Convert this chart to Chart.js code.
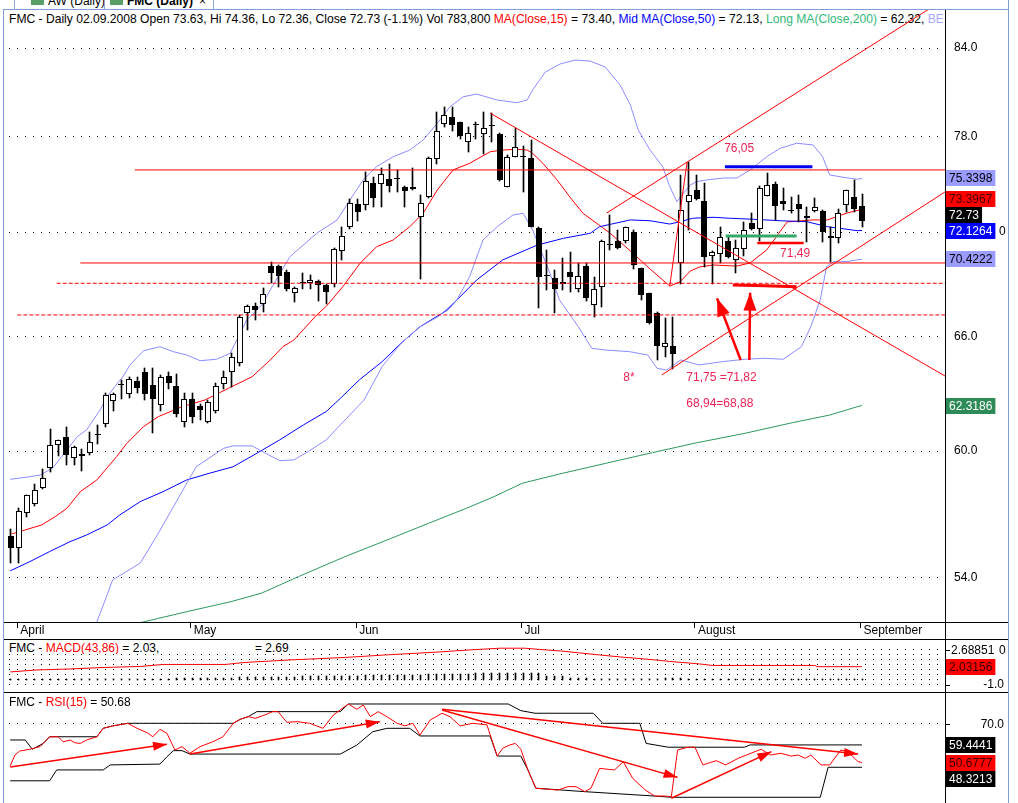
<!DOCTYPE html>
<html>
<head>
<meta charset="utf-8">
<title>FMC Daily</title>
<script src="https://cdn.jsdelivr.net/npm/chart.js@4.4.1/dist/chart.umd.min.js"></script>
<style>
  body { margin: 0; width: 1018px; height: 803px; overflow: hidden; position: relative; background: #fff;
         font: 12px "Liberation Sans", Arial, sans-serif; color: #000; }
  .a { position: absolute; }
  .h { position: absolute; height: 1px; background: #000; }
  .v { position: absolute; width: 1px; background: #000; }
  .t { position: absolute; white-space: nowrap; line-height: 14px; }
  .red { color: #f00; }
</style>
</head>
<body>
<div class="a" style="left:0;top:0;width:1018px;height:9px;overflow:hidden">
  <div class="a" style="left:14px;top:0;width:1px;height:9px;background:#8fa6d8"></div>
  <div class="a" style="left:31px;top:0;width:13px;height:5px;background:#5a9f6a"></div>
  <div class="t" style="left:48px;top:-6px">AW (Daily)</div>
  <div class="a" style="left:104px;top:0;width:1px;height:9px;background:#8fa6d8"></div>
  <div class="a" style="left:110px;top:0;width:13px;height:5px;background:#5a9f6a"></div>
  <div class="t" style="left:127px;top:-6px;font-weight:bold">FMC (Daily)</div>
  <div class="t" style="left:199px;top:-6px">&times;</div>
  <div class="a" style="left:213px;top:0;width:1px;height:9px;background:#8fa6d8"></div>
</div>
<div class="t" style="left:9px;top:11.5px;width:934px;overflow:hidden;font-size:12.1px">FMC - Daily 02.09.2008 Open 73.63, Hi 74.36, Lo 72.36, Close 72.73 (-1.1%) Vol 783,800 <span class="red">MA(Close,15)</span> = 73.40, <span style="color:#0000ff">Mid MA(Close,50)</span> = 72.13, <span style="color:#30b878">Long MA(Close,200)</span> = 62.32, <span style="color:#a9a9ff">BE</span></div>

<canvas id="cMain" class="a" width="1018" height="630" style="left:0;top:9px"></canvas>
<canvas id="cMacd" class="a" width="1018" height="52" style="left:0;top:640px"></canvas>
<canvas id="cRsi" class="a" width="1018" height="110" style="left:0;top:693px"></canvas>

<div class="h" style="left:3px;top:9px;width:1006px;background:#7f9ddb"></div>
<div class="v" style="left:3px;top:9px;height:794px;background:#7f9ddb"></div>
<div class="v" style="left:1008px;top:0;height:803px;background:#7f9ddb"></div>
<div class="v" style="left:945px;top:10px;height:793px"></div>
<div class="h" style="left:4px;top:622px;width:1004px"></div>
<div class="h" style="left:4px;top:639px;width:1004px"></div>
<div class="h" style="left:4px;top:692px;width:1004px"></div>

<div class="t" style="left:9px;top:641px;width:281px;height:13px;background:#fff;overflow:hidden">FMC - <span class="red">MACD(43,86)</span> = 2.03,<span style="position:absolute;left:246px">= 2.69</span></div>
<div class="t" style="left:9px;top:695px;background:#fff">FMC - <span class="red">RSI(15)</span> = 50.68</div>

<script>
// trading days 31.03.2008 .. 02.09.2008, index 0..108
const monthNames = ['April', 'May', 'Jun', 'Jul', 'August', 'September'];
const monthStart = [1, 23, 44, 65, 87, 108];
const priceTicks = [54, 60, 66, 72, 78, 84];

const opens = [55.91,55.32,56.96,57.39,58.19,59.14,60.29,60.69,59.64,59.74,
  59.89,60.80,61.37,62.56,63.38,62.91,63.62,64.09,63.40,62.34,
  63.88,63.35,61.49,62.65,62.30,61.46,62.06,63.46,64.11,64.59,
  67.31,67.72,67.82,70.02,70.02,69.67,68.45,69.02,69.06,69.14,
  68.92,68.96,70.93,72.36,73.73,73.66,75.07,74.99,75.28,75.30,
  74.82,74.67,72.93,74.19,76.55,78.82,79.28,78.95,77.64,78.78,
  78.16,78.69,78.18,74.82,76.71,76.67,76.63,72.30,69.45,69.31,
  68.98,69.69,68.71,70.02,67.78,68.79,71.27,71.48,71.48,72.06,
  69.89,68.45,67.35,65.46,65.51,70.22,73.85,74.61,73.93,70.61,
  70.73,71.52,70.38,71.04,72.57,72.20,74.24,74.99,73.95,73.34,
  73.74,73.01,73.30,73.33,71.80,71.66,73.68,74.19,73.63];
const highs = [56.22,57.20,57.86,58.37,59.09,61.10,60.56,61.20,60.25,60.09,
  60.95,61.32,62.96,62.98,63.67,63.84,63.84,64.32,64.29,63.93,
  64.11,63.99,62.98,62.96,62.40,62.61,63.49,64.15,65.14,67.22,
  67.78,67.88,68.73,70.28,70.08,69.79,68.83,69.63,69.50,69.21,
  68.98,71.07,72.36,74.03,74.03,75.74,75.40,75.97,76.25,75.87,
  74.86,75.97,74.28,76.71,79.63,79.94,79.94,79.00,78.62,78.97,
  79.61,79.58,78.22,76.82,78.59,77.40,77.79,72.33,70.97,69.79,
  70.48,70.83,70.18,70.18,69.40,71.53,73.07,72.16,72.37,72.16,
  69.92,68.48,67.40,67.03,67.09,75.55,76.40,75.55,75.03,70.90,
  72.36,71.76,71.56,72.66,73.17,74.86,75.70,75.13,74.71,74.19,
  74.30,73.58,74.09,73.36,72.36,73.44,74.61,75.24,74.36];
const lows = [54.64,54.66,56.80,57.31,58.12,58.95,59.75,59.29,59.31,59.03,
  59.80,60.34,61.20,62.06,62.65,62.70,62.96,62.61,60.93,62.06,
  63.17,61.75,61.20,61.44,61.58,61.44,61.92,63.17,63.31,64.42,
  66.38,66.94,67.40,69.02,68.83,68.60,67.97,68.68,68.69,68.03,
  67.84,68.83,70.38,72.24,72.72,73.38,73.54,73.54,74.50,74.50,
  73.58,74.64,69.28,74.09,76.25,78.66,78.40,77.86,77.03,77.84,
  76.89,77.64,75.20,74.79,76.68,74.50,72.33,67.59,68.64,67.35,
  68.64,68.54,68.54,68.03,67.09,67.69,70.97,71.01,71.38,69.83,
  68.07,66.74,64.74,64.92,64.24,68.98,72.16,74.02,69.95,68.98,
  70.18,70.49,69.60,70.61,72.16,71.52,74.21,72.77,73.38,73.17,
  72.66,71.46,73.27,71.46,70.28,71.36,73.27,73.27,72.36];
const closes = [55.35,57.07,57.83,58.08,58.65,60.29,60.54,59.79,60.22,59.84,
  60.44,60.82,62.86,62.91,63.42,63.70,63.26,62.91,62.65,63.81,
  63.49,61.90,62.65,61.72,62.09,62.53,63.35,63.81,64.89,67.11,
  67.72,67.50,68.41,69.63,69.44,68.71,68.73,69.06,69.21,68.90,
  68.54,71.01,71.82,73.79,73.27,75.19,74.13,75.61,74.86,75.34,
  74.55,74.82,73.82,76.61,78.40,79.45,78.76,78.05,78.27,78.82,
  78.55,78.73,75.24,76.67,77.36,76.71,72.36,69.40,69.49,68.71,
  69.08,69.36,69.44,68.16,68.68,71.48,71.31,71.10,72.32,70.08,
  68.35,66.79,65.50,65.65,65.07,73.38,74.28,74.05,70.57,70.87,
  71.72,70.53,71.07,72.16,72.20,74.72,74.92,73.62,73.74,73.38,
  73.42,72.87,73.54,72.06,71.66,73.17,74.59,73.42,72.73];

// indicator lines, [day index, value]
const ma15 = [[0.1,55.99],[3.9,56.41],[5.6,56.80],[7.1,57.20],[8.8,58.00],[10.9,58.57],[13.4,59.72],[14.7,60.39],
  [16.8,61.23],[18.7,61.75],[21.7,62.26],[24.6,62.61],[27.6,63.23],[30.6,63.84],[32.9,64.74],[34.5,65.46],
  [35.9,65.83],[37.1,66.40],[38.8,67.22],[40.0,67.70],[42.1,68.82],[44.3,70.18],[46.4,71.16],[48.5,71.56],
  [50.6,72.36],[52.3,73.17],[54.1,74.61],[56.1,75.87],[58.2,76.29],[60.8,77.03],[62.4,77.14],[64.2,77.19],
  [65.5,77.14],[66.2,76.93],[67.5,76.29],[69.3,75.24],[70.9,74.19],[72.6,73.17],[76.0,71.98],[78.6,70.91],
  [81.1,69.85],[83.6,68.86],[84.9,69.10],[86.2,69.73],[87.4,69.97],[89.1,70.08],[92.1,70.02],[93.8,70.20],
  [95.9,70.97],[98.5,72.65],[101.8,72.77],[103.6,72.77],[106.1,73.19],[107.7,73.38],[108,73.40]];
const ma50 = [[-0.1,54.29],[2.4,54.71],[4.9,55.17],[7.5,55.63],[9.6,55.94],[12.2,56.41],[13.8,56.88],[16.4,57.52],
  [19.3,58.00],[22.3,58.57],[25.2,58.90],[28.2,59.22],[31.2,59.89],[34.1,60.56],[37.1,61.32],[40.0,62.01],
  [41.8,62.70],[44.2,63.67],[47.1,64.65],[49.5,65.65],[51.9,66.56],[55.4,67.50],[56.6,68.07],[59.1,69.21],
  [62.4,70.38],[66.8,71.26],[70.1,71.66],[73.5,71.96],[74.7,72.36],[78.6,72.77],[81.1,72.72],[83.6,72.52],
  [84.9,72.66],[86.5,72.87],[89.1,72.93],[91.2,72.87],[94.2,72.81],[97.6,72.72],[101.0,72.66],[103.6,72.36],
  [105.2,72.26],[107.4,72.12],[108,72.13]];
const ma200 = [[16.4,51.99],[22.3,52.47],[27.9,52.91],[31.8,53.29],[36.5,54.03],[42.4,54.94],[48.3,55.79],
  [53.0,56.49],[57.8,57.20],[61.3,57.76],[64.9,58.41],[69.6,58.86],[75.5,59.39],[81.4,59.92],[86.7,60.39],
  [93.2,60.90],[99.2,61.44],[103.9,61.83],[107.7,62.30],[108,62.32]];
const bbUpper = [[-0.1,58.60],[2.4,58.73],[3.7,58.81],[5.3,59.16],[7.1,60.06],[8.4,60.72],[9.6,61.07],[11.3,62.09],
  [12.2,62.79],[13.5,63.49],[14.2,63.84],[15.1,64.47],[16.8,65.24],[18.9,65.46],[20.6,65.19],[22.3,65.01],
  [24.0,64.70],[26.1,64.78],[27.8,65.10],[29.1,66.20],[29.9,66.94],[31.0,67.40],[32.0,67.88],[32.9,68.64],
  [35.4,70.57],[38.8,71.96],[41.4,72.77],[43.0,73.99],[44.7,75.24],[46.4,76.08],[48.5,76.71],[50.6,77.14],
  [52.3,77.79],[54.1,78.88],[55.7,79.98],[57.4,80.65],[59.1,80.83],[61.7,80.43],[64.2,80.25],[65.5,80.43],
  [66.2,81.11],[67.8,82.33],[69.7,82.89],[71.6,83.16],[73.5,83.09],[75.4,82.68],[77.3,81.44],[78.6,80.10],
  [79.6,78.44],[81.1,77.14],[82.7,76.08],[83.6,74.82],[84.5,73.89],[86.2,74.92],[87.0,75.13],[88.3,75.24],
  [90.4,75.36],[92.1,75.36],[93.8,75.87],[95.9,76.71],[97.6,77.25],[99.7,77.58],[101.8,77.47],[103.0,76.71],
  [103.9,75.55],[105.6,75.41],[107.4,75.28],[108,75.34]];
const bbLower = [[10.9,52.02],[12.9,53.88],[16.4,54.64],[18.7,56.02],[21.1,57.60],[23.5,59.22],[27.0,60.14],
  [28.2,60.26],[30.6,60.26],[32.3,59.89],[34.1,59.52],[35.9,59.56],[37.7,59.97],[40.0,60.56],[42.4,61.58],
  [44.8,62.61],[47.1,64.38],[49.5,65.65],[51.9,66.56],[54.2,67.12],[56.6,68.07],[58.2,69.40],[59.9,71.56],
  [61.7,72.36],[63.7,73.07],[65.0,73.17],[66.2,72.16],[68.4,69.60],[69.6,68.07],[72.0,66.56],[73.7,65.37],
  [75.5,65.28],[78.5,65.19],[80.8,65.01],[82.0,64.29],[83.2,64.20],[85.0,64.74],[87.3,64.47],[90.3,64.65],
  [93.2,64.78],[95.6,64.83],[98.0,64.78],[100.3,65.46],[101.5,66.56],[102.7,68.07],[103.5,69.98],[104.4,70.28],
  [106.1,70.28],[107.3,70.38],[108,70.42]];

// drawn levels and trend lines
const levelPrices = [75.87, 70.20, 69.02, 67.22];
const levelFrom = [15.7, 8.8, 5.8, 0.8];
const levelDashed = [false, false, true, true];
const trendLines = [
  [[60.8,79.56],[118.53,63.88]],
  [[75.6,73.19],[116.5,86.78]],
  [[82.6,63.94],[118.53,74.49]],
  [[83.6,68.86],[85.8,76.38]]
];
const markBlue = [[90.6,76.08],[101.7,76.08]];
const markGreen = [[90.7,71.80],[99.7,71.80]];
const markRed = [[94.7,71.38],[100.6,71.38]];
const markRed2 = [[91.6,68.92],[95.7,68.88],[99.7,68.82]];
const mainArrows = [[[92.6,64.74],[89.6,68.16]], [[93.7,64.74],[93.8,68.48]]];
const notes = [[90.5,77.02,'76,05'],[97.6,70.57,'71,49'],[77.7,63.63,'8*'],[85.7,63.63,'71,75 =71,82'],[85.7,62.26,'68,94=68,88']];

// MACD(43,86)
const macdLine = [[-0.1,1.82],[3.3,1.90],[7.5,1.94],[11.9,2.00],[16.4,2.04],[19.3,2.12],[27.2,2.12],[29.7,2.20],
  [35.4,2.30],[42.4,2.40],[47.5,2.50],[54.4,2.62],[58.2,2.70],[62.1,2.77],[65.2,2.77],[67.1,2.72],[69.7,2.66],
  [72.2,2.58],[74.7,2.50],[77.3,2.42],[81.1,2.32],[83.6,2.24],[87.4,2.14],[89.0,2.08],[102.0,2.08],[102.4,2.03],[108,2.03]];
const macdHist = [0.02,0.02,0.02,0.02,0.02,0.02,0.02,0.02,0.02,0.02,0.02,0.02,0.02,
  0.04,0.04,0.04,0.04,0.04,0.04,0.04,0.04,
  0.08,0.08,0.08,0.08,0.08,0.08,0.08,0.08,
  0.12,0.12,0.12,0.12,0.12,0.12,0.12,0.12,
  0.16,0.16,0.16,0.16,0.16,0.16,0.16,0.16,
  0.2,0.2,0.2,0.2,0.2,0.2,0.2,0.2,
  0.24,0.24,0.24,0.24,0.24,0.24,
  0.28,0.28,0.28,0.28,0.28,0.28,0.28,0.28,0.28,
  0.16,0.16,0.16,0.08,0.08,0.08,
  0.04,0.04,0.04,0.04,0.04,0.04,0.04,0.04,0.04,
  0.08,0.08,0.08,
  0.04,0.04,0.04,0.04,0.04,0.04,0.04,0.04,0.04,0.04,0.04,0.04,0.04,0.04,0.04,0.04,0.04,0.04,0.04,0.04,0.04,0.04,0.04];
const macdGrid = [1.3, 1.5, 1.7, 1.9, 2.1, 2.3, 2.5, 2.7];

// RSI(15)
const rsiLine = [[-0.1,49.0],[0.5,54.4],[1.1,56.4],[2.4,57.3],[3.7,58.6],[4.1,60.2],[4.9,63.5],[6.0,63.5],[6.6,61.0],
  [7.5,61.9],[8.1,60.5],[8.8,60.2],[9.6,61.9],[10.9,63.5],[11.7,67.7],[12.9,68.9],[14.8,70.2],[16.0,67.7],
  [17.3,65.5],[18.0,63.5],[18.9,67.2],[19.8,65.2],[20.8,56.9],[21.7,58.6],[22.7,55.3],[24.0,58.6],[25.6,61.0],
  [26.9,63.5],[28.2,70.2],[29.1,72.2],[30.1,73.5],[31.0,72.7],[31.6,73.5],[32.5,74.8],[33.2,76.0],[33.9,76.0],
  [35.0,70.7],[36.3,71.0],[37.9,70.2],[39.6,67.7],[40.9,74.3],[42.8,79.8],[43.9,77.2],[44.7,79.3],[45.6,73.5],
  [46.6,76.0],[47.7,73.5],[49.0,70.2],[50.0,68.9],[51.0,70.2],[51.9,64.4],[53.2,71.8],[54.7,75.2],[55.7,73.5],
  [57.0,68.9],[58.6,70.2],[60.4,69.4],[61.7,53.9],[62.4,57.8],[63.3,59.4],[64.0,60.2],[64.7,57.3],[65.6,47.0],
  [66.6,37.9],[68.1,37.4],[69.4,37.0],[70.7,38.7],[71.7,38.7],[72.8,36.2],[73.6,37.9],[74.7,47.8],[75.8,47.3],
  [76.6,47.0],[77.7,51.1],[78.9,42.8],[80.5,37.0],[81.7,34.0],[83.0,34.0],[83.8,33.7],[84.6,56.9],[85.9,58.3],
  [86.8,58.3],[87.8,49.5],[89.5,51.6],[90.7,49.5],[92.3,52.8],[93.9,55.3],[95.2,57.3],[96.4,54.4],[97.7,55.3],
  [99.0,53.9],[99.9,54.4],[100.8,52.8],[101.5,54.4],[102.8,49.5],[103.9,49.5],[105.3,56.9],[106.2,56.1],
  [107.5,51.1],[108,50.68]];
const rsiUpper = [[-0.1,61.9],[1.8,61.9],[2.7,57.3],[4.1,60.2],[4.9,63.5],[10.9,63.5],[11.7,67.7],[12.9,68.9],
  [14.8,70.2],[28.2,70.2],[29.1,72.2],[30.1,73.5],[31.2,76.0],[41.8,76.0],[42.8,79.8],[63.1,79.8],[64.7,76.5],
  [66.5,75.2],[73.9,75.2],[75.1,70.2],[79.8,70.2],[80.6,60.2],[83.4,58.3],[93.1,58.3],[93.8,59.44],[108,59.44]];
const rsiLower = [[-0.1,41.6],[4.9,41.6],[5.8,47.0],[11.7,47.0],[12.6,49.5],[18.9,49.9],[19.8,53.6],[20.6,56.6],
  [21.7,56.6],[22.7,54.9],[41.8,54.9],[43.9,59.4],[45.9,66.0],[47.7,67.7],[50.6,67.7],[51.9,63.9],[60.8,63.9],
  [61.7,53.9],[64.7,53.9],[65.6,47.0],[66.6,37.9],[72.8,36.2],[81.7,34.0],[83.8,33.4],[102.7,33.4],[103.7,48.32],
  [108,48.32]];
const rsiArrows = [
  [[-0.1,48.5],[19.8,59.8]],
  [[22.7,54.9],[46.8,71.0]],
  [[54.7,77.2],[107.5,54.9]],
  [[54.7,76.8],[84.6,43.3]],
  [[83.8,32.9],[96.5,56.1]]
];

const X_MIN = -0.761, X_MAX = 118.53;
const FONT = '12px "Liberation Sans", Arial, sans-serif';

Chart.defaults.font.family = '"Liberation Sans", Arial, sans-serif';
Chart.defaults.font.size = 12;
Chart.defaults.color = '#000';
Chart.defaults.animation = false;
Chart.defaults.events = [];
Chart.defaults.responsive = false;
Chart.defaults.maintainAspectRatio = false;
Chart.defaults.plugins.legend.display = false;
Chart.defaults.plugins.tooltip.enabled = false;

function lineDs(points, color, width = 1, extra = {}) {
  return Object.assign({
    type: 'line', data: points.map(([x, y]) => ({ x, y })),
    borderColor: color, borderWidth: width, pointRadius: 0, tension: 0, fill: false, order: 3
  }, extra);
}

const fitRight = s => { s.width = 73; s.paddingTop = 0; s.paddingBottom = 0; };
const fitBottom = s => { s.height = 17; s.paddingLeft = 0; s.paddingRight = 0; };

// snap bar elements to whole pixels so bodies and wicks draw sharp
const crispBars = {
  id: 'crispBars',
  afterDatasetsUpdate(chart) {
    chart.data.datasets.forEach((ds, k) => {
      if (ds.type !== 'bar') return;
      const half = ds.barThickness % 2 ? 0.5 : 0;
      chart.getDatasetMeta(k).data.forEach(el => {
        el.x = Math.round(el.x - half) + half;
        const y = Math.round(el.y);
        let base = Math.round(el.base);
        if (base === y) base = y + 1;
        el.y = y; el.base = base;
      });
    });
  }
};

// filled head at the last point of a dataset that has head: [length, halfWidth]
const arrowHeads = {
  id: 'arrowHeads',
  afterDatasetsDraw(chart) {
    const { ctx, chartArea: a } = chart;
    chart.data.datasets.forEach((ds, k) => {
      if (!ds.head) return;
      const pts = chart.getDatasetMeta(k).data;
      const p1 = pts[pts.length - 2], p2 = pts[pts.length - 1];
      const ang = Math.atan2(p2.y - p1.y, p2.x - p1.x);
      ctx.save();
      ctx.beginPath(); ctx.rect(a.left, a.top, a.width, a.height); ctx.clip();
      ctx.translate(p2.x, p2.y); ctx.rotate(ang);
      ctx.beginPath(); ctx.moveTo(0, 0); ctx.lineTo(-ds.head[0], -ds.head[1]); ctx.lineTo(-ds.head[0], ds.head[1]); ctx.closePath();
      ctx.fillStyle = ds.borderColor; ctx.fill();
      ctx.restore();
    });
  }
};

const notesPlugin = {
  id: 'notes',
  afterDatasetsDraw(chart) {
    const { ctx, scales: { x, y } } = chart;
    ctx.save();
    ctx.font = FONT; ctx.fillStyle = '#ee2255'; ctx.textBaseline = 'alphabetic';
    notes.forEach(([i, p, t]) => ctx.fillText(t, x.getPixelForValue(i), y.getPixelForValue(p)));
    ctx.restore();
  }
};

// last-value boxes on the right axis, pushed apart when they collide
function boxes(list, extra) {
  return {
    id: 'boxes',
    afterDraw(chart) {
      const { ctx, chartArea } = chart, y = chart.scales.y, placed = [];
      ctx.save();
      ctx.font = FONT; ctx.textBaseline = 'middle';
      list.forEach(b => {
        let py = y.getPixelForValue(b.v);
        for (let n = 0; n < 6; n++) {
          const hit = placed.find(p => Math.abs(p.py - py) < 16);
          if (!hit) break;
          py = b.v > hit.v ? hit.py - 16 : hit.py + 16;
        }
        placed.push({ v: b.v, py });
        const w = ctx.measureText(b.t).width + 6, top = Math.round(py) - 8;
        ctx.fillStyle = b.bg; ctx.fillRect(chartArea.right + 1, top, w, 16);
        ctx.fillStyle = b.fg; ctx.fillText(b.t, chartArea.right + 4, top + 8.5);
      });
      if (extra) extra(chart, ctx, y, chartArea.right);
      ctx.restore();
    }
  };
}

// ---------- price panel ----------
const idx = closes.map((_, i) => i);
const levelSets = levelPrices.map((p, k) => lineDs([[levelFrom[k], p], [X_MAX, p]], '#ff0000', 1,
  { order: 0, borderDash: levelDashed[k] ? [4, 2] : [] }));

new Chart(document.getElementById('cMain'), {
  type: 'bar',
  data: {
    datasets: [
      lineDs(bbUpper, '#8c8cff'), lineDs(bbLower, '#8c8cff'),
      lineDs(ma200, '#2a9a5e'), lineDs(ma50, '#0000ff'), lineDs(ma15, '#ff0000'),
      { type: 'bar', data: idx.map(i => ({ x: i, y: [lows[i], highs[i]] })), backgroundColor: '#000',
        borderWidth: 0, barThickness: 1, grouped: false, order: 2 },
      { type: 'bar', data: idx.map(i => ({ x: i, y: [opens[i], closes[i]] })),
        backgroundColor: idx.map(i => closes[i] >= opens[i] ? '#fff' : '#000'), borderColor: '#000',
        borderWidth: 1, borderSkipped: false, inflateAmount: 0, barThickness: 6, minBarLength: 1, grouped: false, order: 1 },
      ...levelSets,
      ...trendLines.map(t => lineDs(t, '#ff0000', 1, { order: 0 })),
      lineDs(markBlue, '#0000ee', 3, { order: 0 }),
      lineDs(markGreen, '#33aa66', 3, { order: 0 }),
      lineDs(markRed, '#ff0000', 2.5, { order: 0 }),
      lineDs(markRed2, '#ff0000', 3, { order: 0 }),
      ...mainArrows.map(a => lineDs(a, '#ff0000', 2.5, { order: 0, head: [18, 6.5] }))
    ]
  },
  options: {
    layout: { padding: { left: 5, right: 0, top: 0, bottom: 0 } },
    scales: {
      x: {
        type: 'linear', min: X_MIN, max: X_MAX, offset: false,
        afterBuildTicks: s => { s.ticks = monthStart.map(i => ({ value: i - 0.2 })); },
        afterFit: fitBottom,
        ticks: { autoSkip: false, maxRotation: 0, minRotation: 0, align: 'start', labelOffset: 3, padding: -5,
                 callback: (v, k) => monthNames[k] },
        grid: { offset: false, drawOnChartArea: false, drawTicks: true, tickLength: 6, color: '#000' },
        border: { display: false }
      },
      y: {
        type: 'logarithmic', position: 'right', min: 52.02, max: 86.78,
        afterBuildTicks: s => { s.ticks = priceTicks.map(v => ({ value: v })); },
        afterFit: fitRight,
        ticks: { autoSkip: false, padding: 9, callback: v => Number(v).toFixed(1) },
        grid: { color: '#000', drawTicks: false },
        border: { display: false, dash: [1, 7], dashOffset: 4 }
      }
    }
  },
  plugins: [crispBars, arrowHeads, notesPlugin, boxes([
    { v: 72.1264, t: '72.1264', bg: '#0000ff', fg: '#fff' },
    { v: 72.73, t: '72.73', bg: '#000', fg: '#fff' },
    { v: 73.3967, t: '73.3967', bg: '#ff0000', fg: '#400' },
    { v: 75.3398, t: '75.3398', bg: '#9a9cff', fg: '#000' },
    { v: 70.4222, t: '70.4222', bg: '#9a9cff', fg: '#000' },
    { v: 62.3186, t: '62.3186', bg: '#2e8b57', fg: '#fff' }
  ], (chart, ctx, y) => {
    ctx.fillStyle = '#000';
    ctx.fillText('0', 999, Math.round(y.getPixelForValue(72.1264)) + 0.5);
  })]
});

// ---------- MACD panel ----------
new Chart(document.getElementById('cMacd'), {
  type: 'bar',
  data: {
    datasets: [
      { type: 'bar', data: idx.map(i => ({ x: i, y: [1.5, 1.5 + macdHist[i]] })), backgroundColor: '#000',
        borderWidth: 0, barThickness: 1, grouped: false, order: 2 },
      lineDs(macdLine, '#ff0000', 1, { order: 1 })
    ]
  },
  options: {
    layout: { padding: { left: 5, right: 0, top: 0, bottom: 0 } },
    scales: {
      x: { type: 'linear', min: X_MIN, max: X_MAX, offset: false, display: false },
      y: {
        position: 'right', min: 1.018, max: 3.098,
        afterBuildTicks: s => { s.ticks = macdGrid.map(v => ({ value: v })); },
        afterFit: fitRight,
        ticks: { display: false },
        grid: { color: '#000', drawTicks: false },
        border: { display: false, dash: [1, 7], dashOffset: 4 }
      }
    }
  },
  plugins: [crispBars, boxes([{ v: 2.03156, t: '2.03156', bg: '#ff0000', fg: '#300' }], (chart, ctx, y, r) => {
    ctx.fillStyle = '#000';
    ctx.fillText('2.68851', r + 6, y.getPixelForValue(2.69) + 0.5);
    ctx.fillText('0', 999, y.getPixelForValue(2.68) + 0.5);
    ctx.textAlign = 'right';
    ctx.fillText('-1.0', 1004, y.getPixelForValue(1.34) + 0.5);
    ctx.fillRect(r, Math.round(y.getPixelForValue(2.7)), 5, 1);
    ctx.fillRect(r, Math.round(y.getPixelForValue(1.3)), 5, 1);
  })]
});

// ---------- RSI panel ----------
new Chart(document.getElementById('cRsi'), {
  type: 'line',
  data: {
    datasets: [
      lineDs(rsiUpper, '#000'), lineDs(rsiLower, '#000'),
      lineDs(rsiLine, '#ff0000', 1, { order: 1 }),
      ...rsiArrows.map(a => lineDs(a, '#ff0000', 1.5, { order: 0, head: [14, 4.5] }))
    ]
  },
  options: {
    layout: { padding: { left: 5, right: 0, top: 0, bottom: 0 } },
    scales: {
      x: { type: 'linear', min: X_MIN, max: X_MAX, display: false },
      y: {
        position: 'right', min: 30.55, max: 85.27,
        afterBuildTicks: s => { s.ticks = [{ value: 70 }]; },
        afterFit: fitRight,
        ticks: { display: false },
        grid: { color: '#000', drawTicks: false },
        border: { display: false, dash: [1, 7], dashOffset: 4 }
      }
    }
  },
  plugins: [arrowHeads, boxes([
    { v: 50.6777, t: '50.6777', bg: '#ff0000', fg: '#300' },
    { v: 59.4441, t: '59.4441', bg: '#000', fg: '#fff' },
    { v: 48.3213, t: '48.3213', bg: '#000', fg: '#fff' }
  ], (chart, ctx, y, r) => {
    ctx.fillStyle = '#000'; ctx.textAlign = 'right';
    ctx.fillText('70.0', 1004, y.getPixelForValue(70) + 0.5);
    ctx.fillRect(r, Math.round(y.getPixelForValue(70)), 5, 1);
  })]
});
</script>
</body>
</html>
